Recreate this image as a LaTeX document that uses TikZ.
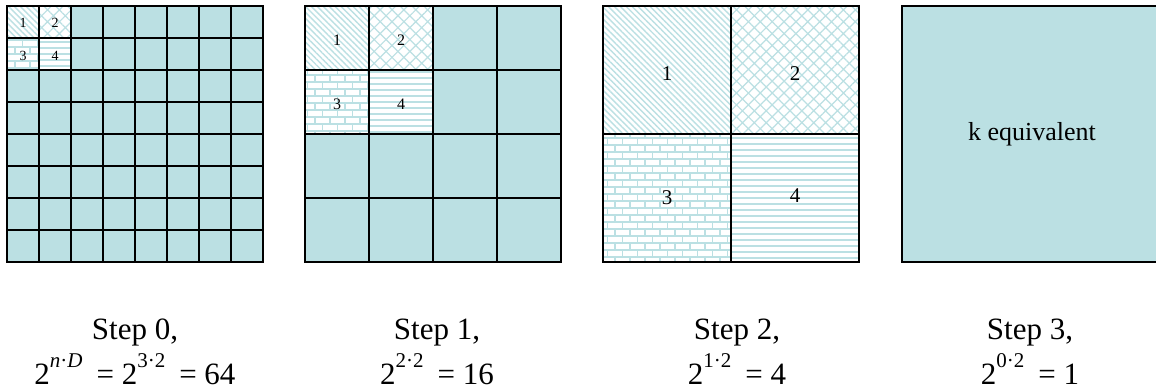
\documentclass[tikz,border=0pt]{standalone}
\usepackage{fontspec}
\setmainfont{Liberation Serif}
\usetikzlibrary{patterns.meta}
\definecolor{cellteal}{RGB}{187,224,227}

% raised exponent and gap before "="
\newcommand\expo[1]{\raisebox{0.52em}{\fontsize{10.5}{12}\selectfont #1}}
\newcommand\eqgap{\hspace{.45em}}

\tikzdeclarepattern{
  name=brickwall,
  type=uncolored,
  bottom left={(-.5pt,-.5pt)},
  top right={(8pt,7.5pt)},
  tile size={(7.5pt,7pt)},
  code={
    \draw[line width=.7pt] (-.5pt,0pt) -- (8pt,0pt) (-.5pt,3.5pt) -- (8pt,3.5pt)
      (0pt,0pt) -- (0pt,3.5pt) (3.75pt,3.5pt) -- (3.75pt,7pt);
  }
}

\begin{document}
\begin{tikzpicture}[
  x=0.5pt,y=-0.5pt,
  gridline/.style={line width=1.2pt,black,line cap=rect},
  linesNW/.style={pattern={Lines[angle=-45,distance=2.1pt,line width=.7pt]},pattern color=cellteal},
  hatchX/.style={pattern={Hatch[angle=45,distance=4.2pt,line width=.6pt]},pattern color=cellteal},
  bricks/.style={pattern=brickwall,pattern color=cellteal},
  linesH/.style={pattern={Lines[angle=0,distance=3pt,line width=.8pt]},pattern color=cellteal},
  steplabel/.style={anchor=base,inner sep=0pt,font=\fontsize{15.5}{18}\selectfont},
]
\useasboundingbox (0,0) rectangle (1156,390);

% Step 0: 8 x 8 cells
\begin{scope}[shift={(7,6)}]
  \fill[cellteal] (0,0) rectangle (256,256);
  \fill[white] (0,0) rectangle (64,64);
  \path[linesNW] (0,0) rectangle (32,32);
  \path[hatchX] (32,0) rectangle (64,32);
  \path[bricks] (0,32) rectangle (32,64);
  \path[linesH] (32,32) rectangle (64,64);
  \foreach \i in {0,...,8} {
    \draw[gridline] (32*\i,0) -- (32*\i,256);
    \draw[gridline] (0,32*\i) -- (256,32*\i);
  }
  \node[font=\fontsize{7}{8}\selectfont] (s0c1) at (16,17) {1};
  \node[font=\fontsize{7}{8}\selectfont] (s0c2) at (48,17) {2};
  \node[font=\fontsize{7}{8}\selectfont] (s0c3) at (16,50) {3};
  \node[font=\fontsize{7}{8}\selectfont] (s0c4) at (48,50) {4};
\end{scope}

% Step 1: 4 x 4 cells
\begin{scope}[shift={(305,6)}]
  \fill[cellteal] (0,0) rectangle (256,256);
  \fill[white] (0,0) rectangle (128,128);
  \path[linesNW] (0,0) rectangle (64,64);
  \path[hatchX] (64,0) rectangle (128,64);
  \path[bricks] (0,64) rectangle (64,128);
  \path[linesH] (64,64) rectangle (128,128);
  \foreach \i in {0,...,4} {
    \draw[gridline] (64*\i,0) -- (64*\i,256);
    \draw[gridline] (0,64*\i) -- (256,64*\i);
  }
  \node[font=\fontsize{8}{9}\selectfont] (s1c1) at (32,34) {1};
  \node[font=\fontsize{8}{9}\selectfont] (s1c2) at (96,34) {2};
  \node[font=\fontsize{8}{9}\selectfont] (s1c3) at (32,98) {3};
  \node[font=\fontsize{8}{9}\selectfont] (s1c4) at (96,98) {4};
\end{scope}

% Step 2: 2 x 2 cells
\begin{scope}[shift={(603,6)}]
  \fill[white] (0,0) rectangle (256,256);
  \path[linesNW] (0,0) rectangle (128,128);
  \path[hatchX] (128,0) rectangle (256,128);
  \path[bricks] (0,128) rectangle (128,256);
  \path[linesH] (128,128) rectangle (256,256);
  \foreach \i in {0,...,2} {
    \draw[gridline] (128*\i,0) -- (128*\i,256);
    \draw[gridline] (0,128*\i) -- (256,128*\i);
  }
  \node[font=\fontsize{10.5}{12}\selectfont] (s2c1) at (64,68) {1};
  \node[font=\fontsize{10.5}{12}\selectfont] (s2c2) at (192,68) {2};
  \node[font=\fontsize{10.5}{12}\selectfont] (s2c3) at (64,192) {3};
  \node[font=\fontsize{10.5}{12}\selectfont] (s2c4) at (192,190) {4};
\end{scope}

% Step 3: one cell
\begin{scope}[shift={(902,6)}]
  \fill[cellteal] (0,0) rectangle (256,256);
  \draw[gridline] (0,0) rectangle (256,256);
  \node[font=\fontsize{13}{15}\selectfont] (s3c) at (130,128) {k equivalent};
\end{scope}

% Captions
\node[steplabel] (cap0) at (135,339) {Step 0,};
\node[steplabel] (eq0) at (135,384) {2\expo{\textit{n}·\textit{D}}\eqgap= 2\expo{3·2}\eqgap= 64};
\node[steplabel] (cap1) at (437,339) {Step 1,};
\node[steplabel] (eq1) at (437,384) {2\expo{2·2}\eqgap= 16};
\node[steplabel] (cap2) at (737,339) {Step 2,};
\node[steplabel] (eq2) at (737,384) {2\expo{1·2}\eqgap= 4};
\node[steplabel] (cap3) at (1030,339) {Step 3,};
\node[steplabel] (eq3) at (1030,384) {2\expo{0·2}\eqgap= 1};

\end{tikzpicture}
\end{document}
